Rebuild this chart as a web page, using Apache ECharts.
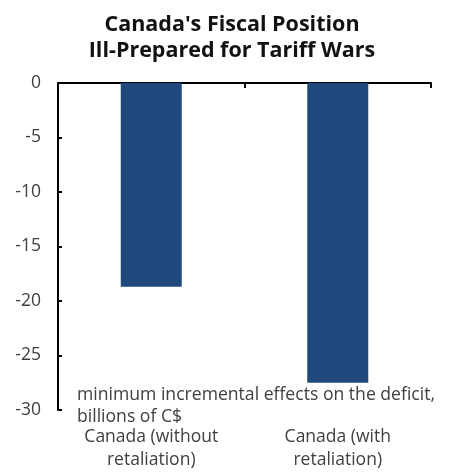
<!DOCTYPE html>
<html><head><meta charset="utf-8">
<script src="https://cdn.jsdelivr.net/npm/echarts@6/dist/echarts.min.js"></script>
<style>html,body{margin:0;padding:0;background:#fff}#c{width:464px;height:473px}</style>
</head><body><div id="c"></div>
<script>
const categories = ['Canada (without\nretaliation)', 'Canada (with\nretaliation)'];
const deficitEffect = [-18.7, -27.5];
const yTicks = [0, -5, -10, -15, -20, -25, -30];
const titleText = "Canada's Fiscal Position\nIll-Prepared for Tariff Wars";
const noteText = 'minimum incremental effects on the deficit,\nbillions of C$';

const chart = echarts.init(document.getElementById('c'));
const font = 'Open Sans';
chart.setOption({
  animation: false,
  title: {
    text: titleText, left: 'center', top: 7,
    textStyle: {fontFamily: font, fontWeight: 'bold', fontSize: 21.5, lineHeight: 26, color: '#111'}
  },
  grid: {left: 58, right: 33, top: 83, bottom: 63},
  xAxis: [{
    type: 'category', data: categories, position: 'bottom',
    axisLine: {show: false, onZero: false}, axisTick: {show: false},
    axisLabel: {fontFamily: font, fontSize: 17.5, lineHeight: 23, color: '#404040', margin: 16, interval: 0}
  }, {
    type: 'category', data: categories, position: 'top',
    axisLine: {show: true, onZero: false, lineStyle: {color: '#000', width: 2}},
    axisTick: {show: true, inside: true, length: 5, lineStyle: {color: '#000', width: 2}},
    axisLabel: {show: false}
  }],
  yAxis: {
    type: 'value', min: -30, max: 0, interval: 5,
    splitLine: {show: false},
    axisLine: {show: true, lineStyle: {color: '#000', width: 2}},
    axisTick: {show: true, inside: true, length: 4, lineStyle: {color: '#000', width: 2}},
    axisLabel: {fontFamily: font, fontSize: 17.5, color: '#404040', margin: 17,
      formatter: v => yTicks.includes(v) ? String(v) : ''}
  },
  graphic: [{
    type: 'text', left: 77, top: 384,
    style: {text: noteText, fontFamily: font, fontSize: 17.6, lineHeight: 22, fill: '#404040'}
  }],
  series: [{
    type: 'bar', data: deficitEffect, barWidth: 61, xAxisIndex: 0,
    itemStyle: {color: '#1f497d'}
  }]
});
</script></body></html>
